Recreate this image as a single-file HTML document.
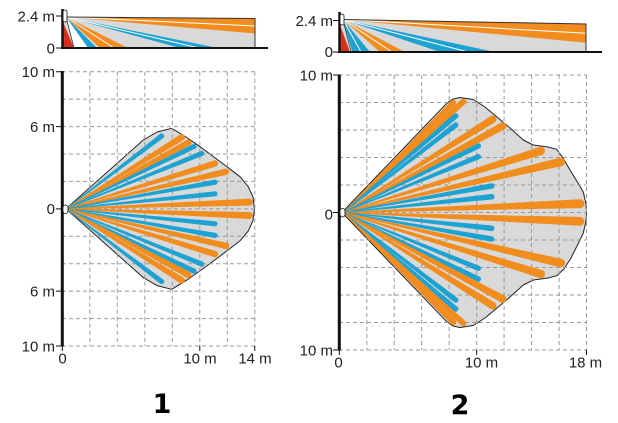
<!DOCTYPE html>
<html><head><meta charset="utf-8"><style>
html,body{margin:0;padding:0;background:#fff;}
svg{display:block;}
text{font-family:"Liberation Sans",Arial,sans-serif;font-size:15px;fill:#222;}
.t{font-family:"DejaVu Sans","Liberation Sans",sans-serif;font-weight:bold;font-size:27px;fill:#000;}
.o{fill:#f18c1e;}
.b{fill:#1ea2d2;}
.g{stroke:#9a9a9a;stroke-width:1;stroke-dasharray:4,3;fill:none;}
</style></head><body>
<svg width="618" height="423" viewBox="0 0 618 423" xmlns="http://www.w3.org/2000/svg">
<rect width="618" height="423" fill="#fff"/>

<!-- ============ SIDE VIEW 1 ============ -->
<polygon points="64,17 255,18.5 255,48 64,48" fill="#d9d9d9"/>
<polygon points="66,17 255,18.5 255,33.5" class="o"/>
<line x1="66" y1="17" x2="255" y2="26" stroke="#fff" stroke-width="1"/>
<polygon points="66,17 218,48 180,48" class="b"/>
<line x1="66" y1="17" x2="199" y2="48" stroke="#fff" stroke-width="1"/>
<polygon points="66,17 128,48 100,48" class="o"/>
<line x1="66" y1="17" x2="114" y2="48" stroke="#fff" stroke-width="1"/>
<polygon points="66,17 97,48 88,48" class="b"/>
<polygon points="66,17 88,48 74,48" fill="#fff"/>
<polygon points="63,22 63,48 74,48" fill="#d6301c"/>
<line x1="66" y1="17" x2="74" y2="48" stroke="#333" stroke-width="0.8"/>
<polyline points="66,17 255,18.5 255,48" fill="none" stroke="#333" stroke-width="1"/>
<line x1="61" y1="48" x2="268" y2="48" stroke="#111" stroke-width="2"/>
<line x1="62.5" y1="9" x2="62.5" y2="48" stroke="#111" stroke-width="2.5"/>
<rect x="63" y="10" width="4" height="12" rx="2" fill="#fff" stroke="#111" stroke-width="0.8"/>
<line x1="56" y1="16" x2="62" y2="16" stroke="#111" stroke-width="1"/>
<line x1="56" y1="48" x2="62" y2="48" stroke="#111" stroke-width="1"/>
<text x="55" y="21.5" text-anchor="end">2.4 m</text>
<text x="55" y="53.5" text-anchor="end">0</text>

<!-- ============ SIDE VIEW 2 ============ -->
<polygon points="341,19.5 586,24 586,52 341,52" fill="#d9d9d9"/>
<polygon points="343,19.5 586,24 586,42.7" class="o"/>
<line x1="343" y1="19.5" x2="586" y2="33.3" stroke="#fff" stroke-width="1"/>
<polygon points="343,19.5 495,52 440,52" class="b"/>
<line x1="343" y1="19.5" x2="468" y2="52" stroke="#fff" stroke-width="1"/>
<polygon points="343,19.5 405,52 380,52" class="o"/>
<line x1="343" y1="19.5" x2="392" y2="52" stroke="#fff" stroke-width="1"/>
<polygon points="343,19.5 370,52 352,52" class="b"/>
<line x1="343" y1="19.5" x2="361" y2="52" stroke="#fff" stroke-width="1"/>
<polygon points="343,19.5 352,52 350,52" fill="#fff"/>
<polygon points="340,25 340,52 350,52" fill="#d6301c"/>
<line x1="343" y1="19.5" x2="351" y2="52" stroke="#333" stroke-width="0.8"/>
<polyline points="343,19.5 586,24 586,52" fill="none" stroke="#333" stroke-width="1"/>
<line x1="338" y1="52" x2="602" y2="52" stroke="#111" stroke-width="2"/>
<line x1="339.5" y1="12" x2="339.5" y2="52" stroke="#111" stroke-width="2.5"/>
<rect x="340" y="14" width="4" height="11" rx="2" fill="#fff" stroke="#111" stroke-width="0.8"/>
<line x1="333" y1="20.5" x2="339" y2="20.5" stroke="#111" stroke-width="1"/>
<line x1="333" y1="52" x2="339" y2="52" stroke="#111" stroke-width="1"/>
<text x="333" y="26" text-anchor="end">2.4 m</text>
<text x="333" y="57" text-anchor="end">0</text>

<!-- ============ MAIN CHART 1 ============ -->
<polygon fill="#d9d9d9" stroke="#222" stroke-width="1" stroke-linejoin="round" points="66,208.8 143.3,140 157,132 171.7,128.3 186,137 200,146.7 220,161.5 240,176.7 248.3,186.7 253,197 254.5,208.8 253,220.6 248.3,230.9 240,240.9 220,256.1 200,270.9 186,280.6 171.7,289.3 157,285.6 143.3,277.6"/>
<path class="g" d="M62,71.7H254.8M62,99.1H254.8M62,126.6H254.8M62,154H254.8M62,181.4H254.8M62,208.9H254.8M62,236.3H254.8M62,263.7H254.8M62,291.1H254.8M62,318.6H254.8M62,346H254.8
M89.8,71.7V346M117.3,71.7V346M144.8,71.7V346M172.3,71.7V346M199.8,71.7V346M227.3,71.7V346M254.8,71.7V346"/>
<g>
<path class="b" transform="translate(66 208.8) rotate(-37.26)" d="M0,-0.4L120.2,-2.6A2.6,2.6 0 0 1 120.2,2.6L0,0.4Z"/>
<path class="o" transform="translate(66 208.8) rotate(-31.68)" d="M0,-0.4L136,-3.2A3.2,3.2 0 0 1 136,3.2L0,0.4Z"/>
<path class="o" transform="translate(66 208.8) rotate(-28.39)" d="M0,-0.4L139,-3.2A3.2,3.2 0 0 1 139,3.2L0,0.4Z"/>
<path class="b" transform="translate(66 208.8) rotate(-25.96)" d="M0,-0.4L142.4,-2.6A2.6,2.6 0 0 1 142.4,2.6L0,0.4Z"/>
<path class="b" transform="translate(66 208.8) rotate(-22.17)" d="M0,-0.4L146.5,-2.6A2.6,2.6 0 0 1 146.5,2.6L0,0.4Z"/>
<path class="o" transform="translate(66 208.8) rotate(-16.91)" d="M0,-0.4L155.7,-3.2A3.2,3.2 0 0 1 155.7,3.2L0,0.4Z"/>
<path class="o" transform="translate(66 208.8) rotate(-13.05)" d="M0,-0.4L164.2,-3.2A3.2,3.2 0 0 1 164.2,3.2L0,0.4Z"/>
<path class="b" transform="translate(66 208.8) rotate(-10.12)" d="M0,-0.4L151.4,-2.6A2.6,2.6 0 0 1 151.4,2.6L0,0.4Z"/>
<path class="b" transform="translate(66 208.8) rotate(-5.75)" d="M0,-0.4L149.7,-2.6A2.6,2.6 0 0 1 149.7,2.6L0,0.4Z"/>
<path class="o" transform="translate(66 208.8) rotate(-2.09)" d="M0,-0.4L183.4,-3.5A3.5,3.5 0 0 1 183.4,3.5L0,0.4Z"/>
<path class="o" transform="translate(66 208.8) rotate(2.09)" d="M0,-0.4L183.4,-3.5A3.5,3.5 0 0 1 183.4,3.5L0,0.4Z"/>
<path class="b" transform="translate(66 208.8) rotate(5.75)" d="M0,-0.4L149.7,-2.6A2.6,2.6 0 0 1 149.7,2.6L0,0.4Z"/>
<path class="b" transform="translate(66 208.8) rotate(10.12)" d="M0,-0.4L151.4,-2.6A2.6,2.6 0 0 1 151.4,2.6L0,0.4Z"/>
<path class="o" transform="translate(66 208.8) rotate(13.05)" d="M0,-0.4L164.2,-3.2A3.2,3.2 0 0 1 164.2,3.2L0,0.4Z"/>
<path class="o" transform="translate(66 208.8) rotate(16.91)" d="M0,-0.4L155.7,-3.2A3.2,3.2 0 0 1 155.7,3.2L0,0.4Z"/>
<path class="b" transform="translate(66 208.8) rotate(22.17)" d="M0,-0.4L146.5,-2.6A2.6,2.6 0 0 1 146.5,2.6L0,0.4Z"/>
<path class="b" transform="translate(66 208.8) rotate(25.96)" d="M0,-0.4L142.4,-2.6A2.6,2.6 0 0 1 142.4,2.6L0,0.4Z"/>
<path class="o" transform="translate(66 208.8) rotate(28.39)" d="M0,-0.4L139,-3.2A3.2,3.2 0 0 1 139,3.2L0,0.4Z"/>
<path class="o" transform="translate(66 208.8) rotate(31.68)" d="M0,-0.4L136,-3.2A3.2,3.2 0 0 1 136,3.2L0,0.4Z"/>
<path class="b" transform="translate(66 208.8) rotate(37.26)" d="M0,-0.4L120.2,-2.6A2.6,2.6 0 0 1 120.2,2.6L0,0.4Z"/>
</g>
<line x1="62.3" y1="71" x2="62.3" y2="346.5" stroke="#111" stroke-width="3"/>
<rect x="63" y="205" width="5" height="8.5" rx="2.5" fill="#fff" stroke="#111" stroke-width="0.8"/>
<path d="M56,71.7H62M56,126.6H62M56,208.9H62M56,291.1H62M56,346H62M62.3,346V351M199.8,346V351M254.8,346V351" stroke="#111" stroke-width="1"/>
<text x="55" y="77" text-anchor="end">10 m</text>
<text x="55" y="131.9" text-anchor="end">6 m</text>
<text x="55" y="214.2" text-anchor="end">0</text>
<text x="55" y="296.4" text-anchor="end">6 m</text>
<text x="55" y="351.3" text-anchor="end">10 m</text>
<text x="62.5" y="363.6" text-anchor="middle">0</text>
<text x="200" y="363.6" text-anchor="middle">10 m</text>
<text x="255" y="363.6" text-anchor="middle">14 m</text>
<text class="t" x="162" y="413" text-anchor="middle">1</text>

<!-- ============ MAIN CHART 2 ============ -->
<polygon fill="#d9d9d9" stroke="#222" stroke-width="1" stroke-linejoin="round" points="342,212.5 446.7,103.3 453,99 460,97.5 473.3,99.5 485,107 496.7,116.7 510,128 523.3,140 533.3,145 548,147 556.7,149.3 563,158 570,170 578,183 583.3,192 586,204 586.5,212.5 586,221 583.3,233 578,244 571,258 564,269 556.7,275.7 548,278 533.3,280 523.3,285 510,297 496.7,308.3 485,318 473.3,325.5 460,327.5 453,326 446.7,321.7"/>
<path class="g" d="M339,75H586.5M339,102.5H586.5M339,130H586.5M339,157.5H586.5M339,185H586.5M339,212.5H586.5M339,240H586.5M339,267.5H586.5M339,295H586.5M339,322.5H586.5M339,350H586.5
M366.8,75V350M394.2,75V350M421.7,75V350M449.2,75V350M476.7,75V350M504.1,75V350M531.6,75V350M559.1,75V350M586.5,75V350"/>
<g>
<path class="o" transform="translate(343 212.5) rotate(-44.87)" d="M0,-0.4L155.6,-3A3,3 0 0 1 155.6,3L0,0.4Z"/>
<path class="o" transform="translate(343 212.5) rotate(-42.65)" d="M0,-0.4L163.6,-3A3,3 0 0 1 163.6,3L0,0.4Z"/>
<path class="b" transform="translate(343 212.5) rotate(-40.57)" d="M0,-0.4L148.4,-2.7A2.7,2.7 0 0 1 148.4,2.7L0,0.4Z"/>
<path class="b" transform="translate(343 212.5) rotate(-37.83)" d="M0,-0.4L142.7,-2.7A2.7,2.7 0 0 1 142.7,2.7L0,0.4Z"/>
<path class="o" transform="translate(343 212.5) rotate(-31.91)" d="M0,-0.4L176.3,-3.8A3.8,3.8 0 0 1 176.3,3.8L0,0.4Z"/>
<path class="o" transform="translate(343 212.5) rotate(-28.44)" d="M0,-0.4L181.6,-3.8A3.8,3.8 0 0 1 181.6,3.8L0,0.4Z"/>
<path class="b" transform="translate(343 212.5) rotate(-26.17)" d="M0,-0.4L150.8,-2.7A2.7,2.7 0 0 1 150.8,2.7L0,0.4Z"/>
<path class="b" transform="translate(343 212.5) rotate(-22.41)" d="M0,-0.4L146.4,-2.7A2.7,2.7 0 0 1 146.4,2.7L0,0.4Z"/>
<path class="o" transform="translate(343 212.5) rotate(-17.28)" d="M0,-0.4L207,-4.2A4.2,4.2 0 0 1 207,4.2L0,0.4Z"/>
<path class="o" transform="translate(343 212.5) rotate(-13.06)" d="M0,-0.4L223.5,-4.3A4.3,4.3 0 0 1 223.5,4.3L0,0.4Z"/>
<path class="b" transform="translate(343 212.5) rotate(-10.1)" d="M0,-0.4L151,-2.8A2.8,2.8 0 0 1 151,2.8L0,0.4Z"/>
<path class="b" transform="translate(343 212.5) rotate(-6.07)" d="M0,-0.4L149.5,-2.8A2.8,2.8 0 0 1 149.5,2.8L0,0.4Z"/>
<path class="o" transform="translate(343 212.5) rotate(-2.13)" d="M0,-0.4L237.2,-4.4A4.4,4.4 0 0 1 237.2,4.4L0,0.4Z"/>
<path class="o" transform="translate(343 212.5) rotate(2.13)" d="M0,-0.4L237.2,-4.4A4.4,4.4 0 0 1 237.2,4.4L0,0.4Z"/>
<path class="b" transform="translate(343 212.5) rotate(6.07)" d="M0,-0.4L149.5,-2.8A2.8,2.8 0 0 1 149.5,2.8L0,0.4Z"/>
<path class="b" transform="translate(343 212.5) rotate(10.1)" d="M0,-0.4L151,-2.8A2.8,2.8 0 0 1 151,2.8L0,0.4Z"/>
<path class="o" transform="translate(343 212.5) rotate(13.06)" d="M0,-0.4L223.5,-4.3A4.3,4.3 0 0 1 223.5,4.3L0,0.4Z"/>
<path class="o" transform="translate(343 212.5) rotate(17.28)" d="M0,-0.4L207,-4.2A4.2,4.2 0 0 1 207,4.2L0,0.4Z"/>
<path class="b" transform="translate(343 212.5) rotate(22.41)" d="M0,-0.4L146.4,-2.7A2.7,2.7 0 0 1 146.4,2.7L0,0.4Z"/>
<path class="b" transform="translate(343 212.5) rotate(26.17)" d="M0,-0.4L150.8,-2.7A2.7,2.7 0 0 1 150.8,2.7L0,0.4Z"/>
<path class="o" transform="translate(343 212.5) rotate(28.44)" d="M0,-0.4L181.6,-3.8A3.8,3.8 0 0 1 181.6,3.8L0,0.4Z"/>
<path class="o" transform="translate(343 212.5) rotate(31.91)" d="M0,-0.4L176.3,-3.8A3.8,3.8 0 0 1 176.3,3.8L0,0.4Z"/>
<path class="b" transform="translate(343 212.5) rotate(37.83)" d="M0,-0.4L142.7,-2.7A2.7,2.7 0 0 1 142.7,2.7L0,0.4Z"/>
<path class="b" transform="translate(343 212.5) rotate(40.57)" d="M0,-0.4L148.4,-2.7A2.7,2.7 0 0 1 148.4,2.7L0,0.4Z"/>
<path class="o" transform="translate(343 212.5) rotate(42.65)" d="M0,-0.4L163.6,-3A3,3 0 0 1 163.6,3L0,0.4Z"/>
<path class="o" transform="translate(343 212.5) rotate(44.87)" d="M0,-0.4L155.6,-3A3,3 0 0 1 155.6,3L0,0.4Z"/>
</g>
<line x1="339.3" y1="74.5" x2="339.3" y2="350.5" stroke="#111" stroke-width="3"/>
<rect x="340" y="208.5" width="5" height="8.5" rx="2.5" fill="#fff" stroke="#111" stroke-width="0.8"/>
<path d="M333,75H339M333,212.5H339M333,350H339M339.3,350V355M476.7,350V355M586.5,350V355" stroke="#111" stroke-width="1"/>
<text x="333" y="80.4" text-anchor="end">10 m</text>
<text x="333" y="219.3" text-anchor="end">0</text>
<text x="333" y="355.4" text-anchor="end">10 m</text>
<text x="338.5" y="367.5" text-anchor="middle">0</text>
<text x="481.5" y="367.5" text-anchor="middle">10 m</text>
<text x="585.5" y="367.5" text-anchor="middle">18 m</text>
<text class="t" x="460" y="414" text-anchor="middle">2</text>
</svg>
</body></html>
